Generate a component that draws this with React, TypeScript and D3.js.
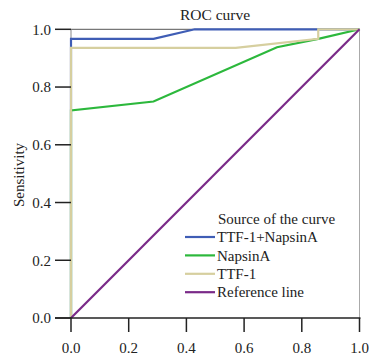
import React from "react";
import * as d3 from "d3";

const xTicks = [0, 0.2, 0.4, 0.6, 0.8, 1.0];
const yTicks = [0, 0.2, 0.4, 0.6, 0.8, 1.0];

const seriesNames = ["TTF-1+NapsinA", "NapsinA", "TTF-1", "Reference line"];
const seriesColors = ["#3f5db5", "#2cb83c", "#d6cf9f", "#7a2a88"];

const combinedFPR = [0, 0, 0.286, 0.429, 0.857, 1];
const combinedTPR = [0, 0.967, 0.967, 1, 1, 1];
const napsinFPR = [0, 0, 0.286, 0.714, 0.857, 1];
const napsinTPR = [0, 0.719, 0.75, 0.938, 0.967, 1];
const ttfFPR = [0, 0, 0.571, 0.857, 0.857, 1];
const ttfTPR = [0, 0.936, 0.936, 0.967, 1, 1];
const refFPR = [0, 1];
const refTPR = [0, 1];

const allFPR = [combinedFPR, napsinFPR, ttfFPR, refFPR];
const allTPR = [combinedTPR, napsinTPR, ttfTPR, refTPR];
const drawOrder = [0, 1, 2, 3];

const font = "Liberation Serif, Times New Roman, serif";
const ts = (size: number) => ({ fontFamily: font, fontSize: size + "px" });

export default function App() {
  const W = 369, H = 357;
  const x = d3.scaleLinear().domain([0, 1]).range([71, 359.5]);
  const y = d3.scaleLinear().domain([0, 1]).range([318, 29.3]);
  const line = d3.line<[number, number]>().x(d => x(d[0])).y(d => y(d[1]));
  return (
    <svg width={W} height={H} style={{ position: "absolute", left: 0, top: 0 }}>
      <rect width={W} height={H} fill="#fff" />
      <text x={215} y={20} style={ts(15.5)} textAnchor="middle" fill="#222">ROC curve</text>
      {/* frame */}
      <line x1={x(0)} x2={x(1)} y1={y(1)} y2={y(1)} stroke="#555" strokeWidth={1} />
      <line x1={x(1)} x2={x(1)} y1={y(1)} y2={y(0)} stroke="#aaa" strokeWidth={1} />
      <line x1={x(0)} x2={x(0)} y1={y(1)} y2={y(0)} stroke="#888" strokeWidth={1} />
      {/* curves */}
      {drawOrder.map(i => (
        <path key={i} d={line(allFPR[i].map((v, j) => [v, allTPR[i][j]]) as [number, number][]) || ""}
          fill="none" stroke={seriesColors[i]} strokeWidth={2.2} />
      ))}
      {/* y axis */}
      {yTicks.map(t => (
        <g key={"y" + t}>
          <line x1={55} x2={x(0)} y1={y(t)} y2={y(t)} stroke="#222" strokeWidth={1.5} />
          <text x={51} y={y(t)} dy="0.35em" style={ts(15)} textAnchor="end" fill="#222">{t.toFixed(1)}</text>
        </g>
      ))}
      {/* x axis */}
      <line x1={55} x2={x(1) + 1} y1={y(0)} y2={y(0)} stroke="#222" strokeWidth={1.5} />
      {xTicks.map(t => (
        <g key={"x" + t}>
          <line x1={x(t)} x2={x(t)} y1={y(0)} y2={332} stroke="#222" strokeWidth={1.5} />
          <text x={x(t)} y={353} style={ts(15)} textAnchor="middle" fill="#222">{t.toFixed(1)}</text>
        </g>
      ))}
      <text transform={`translate(24,175) rotate(-90)`} style={ts(15)} textAnchor="middle" fill="#222">Sensitivity</text>
      {/* legend */}
      <text x={218} y={224} style={ts(15)} fill="#222">Source of the curve</text>
      {seriesNames.map((n, i) => (
        <g key={n}>
          <line x1={185} x2={215} y1={237 + i * 18.4} y2={237 + i * 18.4} stroke={seriesColors[i]} strokeWidth={2.2} />
          <text x={217} y={237 + i * 18.4} dy="0.35em" style={ts(15)} fill="#222">{n}</text>
        </g>
      ))}
    </svg>
  );
}
